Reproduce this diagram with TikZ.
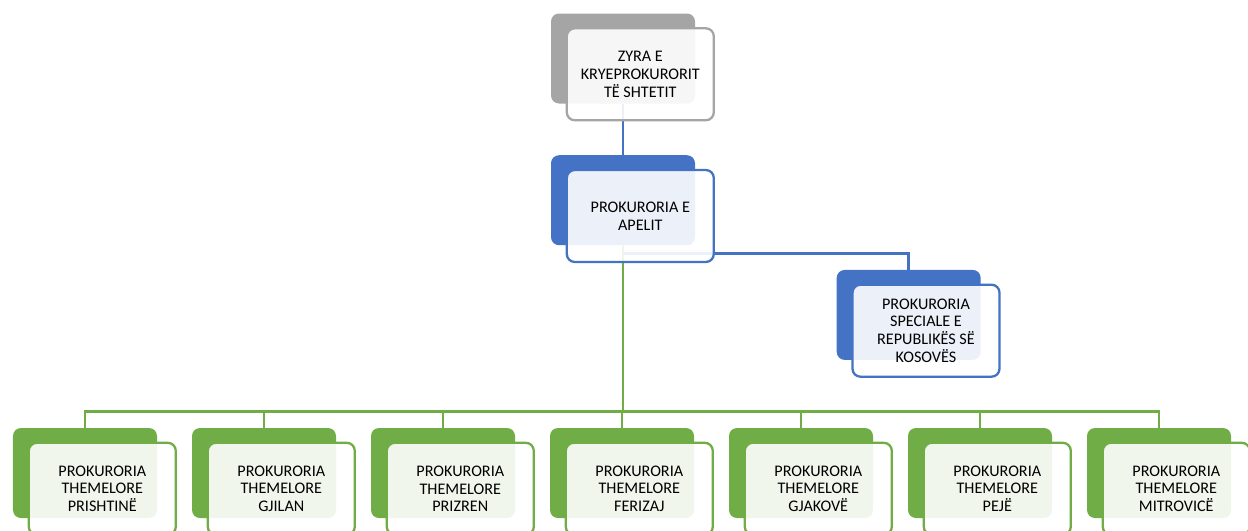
\documentclass[tikz,border=0pt]{standalone}
\usepackage{fontspec}
\setmainfont{Carlito}
\usetikzlibrary{positioning}
\definecolor{accGray}{HTML}{A5A5A5}
\definecolor{accBlue}{HTML}{4472C4}
\definecolor{accGreen}{HTML}{70AD47}

\begin{document}
\begin{tikzpicture}[
    back/.style={rounded corners=0.16cm, fill=#1, minimum width=2.88cm, minimum height=1.8cm, inner sep=0pt},
    front/.style={rounded corners=0.16cm, draw=#1, line width=1.3pt, fill=white, fill opacity=0.9, text opacity=1,
        minimum width=2.94cm, minimum height=1.84cm, inner sep=0pt, align=center, font=\fontsize{9.2}{10.2}\selectfont},
    link/.style={line width=1.5pt, #1}
]
    \def\offX{0.3cm}
    \def\offY{-0.28cm}

    \useasboundingbox (0,0) rectangle (24.96,-10.62);

    %caixas de fundo
    \node[back=accGray] (zyra-bg) at (12.46,-1.17) {};
    \node[back=accBlue, below=1.02cm of zyra-bg] (apelit-bg) {};
    \node[back=accBlue, below right=0.48cm and 2.82cm of apelit-bg] (speciale-bg) {};
    \foreach \i in {0,...,6} {
        \node[back=accGreen] (b\i-bg) at (1.70+3.58*\i,-9.46) {};
    }

    %ligacoes
    \draw[link=accBlue] (zyra-bg.south) -- (apelit-bg.north);
    \draw[link=accBlue] (apelit-bg.south) -- ++(0,-0.16) -| (speciale-bg.north);
    \foreach \i in {0,...,6} {
        \draw[link=accGreen] (apelit-bg.south) |- ([yshift=0.32cm]b\i-bg.north) -- (b\i-bg.north);
    }

    %caixas da frente
    \node[front=accGray, anchor=north west] (zyra) at ([shift={(\offX,\offY)}]zyra-bg.north west)
        {ZYRA E\\KRYEPROKURORIT\\TË SHTETIT};
    \node[front=accBlue, anchor=north west] (apelit) at ([shift={(\offX,\offY)}]apelit-bg.north west)
        {PROKURORIA E\\APELIT};
    \node[front=accBlue, anchor=north west] (speciale) at ([shift={(\offX,\offY)}]speciale-bg.north west)
        {PROKURORIA\\SPECIALE E\\REPUBLIKËS SË\\KOSOVËS};
    \foreach \i/\qyteti in {
        0/PRISHTINË, 1/GJILAN, 2/PRIZREN, 3/FERIZAJ, 4/GJAKOVË, 5/PEJË, 6/MITROVICË
    } {
        \node[front=accGreen, anchor=north west] (b\i) at ([shift={(\offX,\offY)}]b\i-bg.north west)
            {PROKURORIA\\THEMELORE\\\qyteti};
    }
\end{tikzpicture}
\end{document}
